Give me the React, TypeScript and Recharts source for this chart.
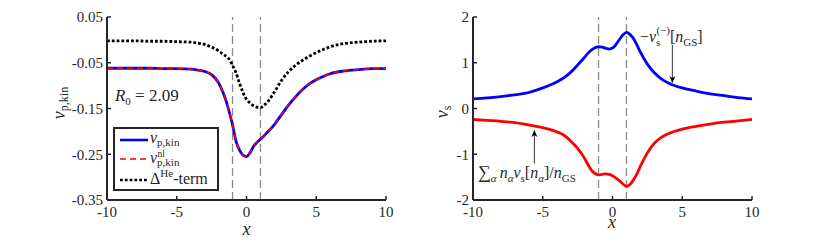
import React from 'react';
import { LineChart, Line, XAxis, YAxis, ReferenceLine, ReferenceDot } from 'recharts';

// left panel: v_p,kin
const xLeft = [-10, -8, -7, -6, -5, -4, -3.5, -3, -2.5, -2, -1.75, -1.5, -1.25, -1, -0.75, -0.5, -0.25, 0, 0.25, 0.5, 0.75, 1, 1.25, 1.5, 2, 2.5, 3, 3.5, 4, 4.5, 5, 5.5, 6, 7, 8, 9, 10];
const vpKin = [-0.062, -0.062, -0.062, -0.063, -0.063, -0.064, -0.066, -0.069, -0.076, -0.094, -0.11, -0.13, -0.156, -0.186, -0.222, -0.241, -0.252, -0.255, -0.247, -0.233, -0.224, -0.217, -0.21, -0.202, -0.185, -0.164, -0.143, -0.125, -0.109, -0.096, -0.087, -0.08, -0.074, -0.068, -0.065, -0.063, -0.063];
const vpKinNl = [-0.062, -0.062, -0.062, -0.063, -0.063, -0.064, -0.066, -0.069, -0.076, -0.094, -0.11, -0.13, -0.156, -0.186, -0.222, -0.241, -0.252, -0.255, -0.247, -0.233, -0.224, -0.217, -0.21, -0.202, -0.185, -0.164, -0.143, -0.125, -0.109, -0.096, -0.087, -0.08, -0.074, -0.068, -0.065, -0.063, -0.063];
const deltaHe = [-0.002, -0.002, -0.003, -0.003, -0.004, -0.005, -0.007, -0.01, -0.016, -0.024, -0.03, -0.035, -0.042, -0.056, -0.072, -0.095, -0.115, -0.13, -0.138, -0.144, -0.147, -0.148, -0.143, -0.136, -0.114, -0.089, -0.07, -0.056, -0.045, -0.036, -0.028, -0.021, -0.015, -0.008, -0.005, -0.003, -0.002];

// right panel: v_s
const xRight = [-10, -9, -8, -7, -6, -5, -4, -3.5, -3, -2.5, -2, -1.75, -1.5, -1.25, -1, -0.75, -0.5, -0.25, 0, 0.25, 0.5, 0.75, 1, 1.25, 1.5, 1.75, 2, 2.5, 3, 3.5, 4, 5, 6, 7, 8, 9, 10];
const vsMinus = [0.21, 0.23, 0.26, 0.3, 0.35, 0.45, 0.58, 0.67, 0.79, 0.95, 1.12, 1.21, 1.28, 1.33, 1.35, 1.34, 1.32, 1.3, 1.32, 1.4, 1.51, 1.61, 1.665, 1.62, 1.53, 1.39, 1.23, 0.97, 0.78, 0.65, 0.56, 0.45, 0.38, 0.32, 0.28, 0.24, 0.21];
const vsSum = [-0.24, -0.26, -0.28, -0.31, -0.36, -0.42, -0.51, -0.58, -0.71, -0.87, -1.09, -1.23, -1.35, -1.42, -1.45, -1.44, -1.43, -1.44, -1.47, -1.52, -1.58, -1.65, -1.7, -1.66, -1.56, -1.43, -1.26, -0.97, -0.76, -0.63, -0.55, -0.45, -0.39, -0.34, -0.3, -0.27, -0.24];

const xTicks = [-10, -5, 0, 5, 10];
const leftYTicks = [-0.35, -0.25, -0.15, -0.05, 0.05];
const rightYTicks = [-2, -1, 0, 1, 2];
const separators = [-1, 1];

const leftData = xLeft.map((x, i) => ({ x, vpKin: vpKin[i], vpKinNl: vpKinNl[i], deltaHe: deltaHe[i] }));
const rightData = xRight.map((x, i) => ({ x, vsMinus: vsMinus[i], vsSum: vsSum[i] }));

const FONT = 'Liberation Serif';
const INK = '#262626';
const tickStyle = { fill: INK, fontSize: 15, fontFamily: FONT };
const txt = { fontFamily: FONT };

// box-on frame with inward ticks, MATLAB style
function frame(yDomain: number[], yTicks: number[], yWidth: number, xLabel: any, yLabel: any) {
  return [
    <XAxis key="xb" dataKey="x" type="number" domain={[-10, 10]} ticks={xTicks} interval={0} height={42}
      axisLine={{ stroke: INK, strokeWidth: 2 }} tickLine={{ stroke: INK, strokeWidth: 1.5 }}
      tickSize={-4} tickMargin={10} tick={tickStyle} label={{ content: xLabel }} />,
    <XAxis key="xt" xAxisId="top" orientation="top" dataKey="x" type="number" domain={[-10, 10]} ticks={xTicks}
      interval={0} height={0} axisLine={{ stroke: INK, strokeWidth: 2 }} tickLine={{ stroke: INK, strokeWidth: 1.5 }}
      tickSize={-4} tick={false} />,
    <YAxis key="yl" type="number" domain={yDomain} ticks={yTicks} interval={0} width={yWidth}
      axisLine={{ stroke: INK, strokeWidth: 2 }} tickLine={{ stroke: INK, strokeWidth: 1.5 }}
      tickSize={-4} tickMargin={8} tick={tickStyle} label={{ content: yLabel }} />,
    <YAxis key="yr" yAxisId="right" orientation="right" type="number" domain={yDomain} ticks={yTicks} interval={0}
      width={0} axisLine={{ stroke: INK, strokeWidth: 2 }} tickLine={{ stroke: INK, strokeWidth: 1.5 }}
      tickSize={-4} tick={false} />,
  ];
}

const arrowDown = (p: any) => (
  <path d={`M${p.cx},${p.cy} L${p.cx - 3},${p.cy - 7} L${p.cx},${p.cy - 5} L${p.cx + 3},${p.cy - 7} Z`} fill="#000" />
);
const arrowUp = (p: any) => (
  <path d={`M${p.cx},${p.cy} L${p.cx - 3},${p.cy + 7} L${p.cx},${p.cy + 5} L${p.cx + 3},${p.cy + 7} Z`} fill="#000" />
);

const r0Text = (p: any) => (
  <text x={p.cx} y={p.cy} style={txt} fontSize={17} fill={INK}>
    <tspan fontStyle="italic">R</tspan>
    <tspan fontSize={11} dy={4}>0</tspan>
    <tspan dy={-4}> = 2.09</tspan>
  </text>
);

const vsMinusText = (p: any) => (
  <text x={p.cx} y={p.cy} style={txt} fontSize={16} fill={INK}>
    <tspan>−</tspan>
    <tspan fontStyle="italic">v</tspan>
    <tspan fontSize={11} dy={4}>s</tspan>
    <tspan fontSize={11} dx={-4} dy={-12}>(−)</tspan>
    <tspan dy={8}>[</tspan>
    <tspan fontStyle="italic">n</tspan>
    <tspan fontSize={11} dy={4}>GS</tspan>
    <tspan dy={-4}>]</tspan>
  </text>
);

const vsSumText = (p: any) => (
  <text x={p.cx} y={p.cy} style={txt} fontSize={16} fill={INK}>
    <tspan fontSize={18}>∑</tspan>
    <tspan fontSize={11} dy={4} fontStyle="italic">α</tspan>
    <tspan dx={3} dy={-4} fontStyle="italic">n</tspan>
    <tspan fontSize={11} dy={4} fontStyle="italic">α</tspan>
    <tspan dy={-4} fontStyle="italic">v</tspan>
    <tspan fontSize={11} dy={4}>s</tspan>
    <tspan dy={-4}>[</tspan>
    <tspan fontStyle="italic">n</tspan>
    <tspan fontSize={11} dy={4} fontStyle="italic">α</tspan>
    <tspan dy={-4}>]/</tspan>
    <tspan fontStyle="italic">n</tspan>
    <tspan fontSize={11} dy={4}>GS</tspan>
  </text>
);

const leftXLabel = () => (
  <text x={246.5} y={235} textAnchor="middle" style={txt} fontSize={18} fontStyle="italic" fill={INK}>x</text>
);
const rightXLabel = () => (
  <text x={202} y={228} textAnchor="middle" style={txt} fontSize={18} fontStyle="italic" fill={INK}>x</text>
);
const leftYLabel = () => (
  <text transform="translate(65,103) rotate(-90)" textAnchor="middle" style={txt} fontSize={18} fill={INK}>
    <tspan fontStyle="italic">v</tspan>
    <tspan fontSize={12} dy={3}>p,kin</tspan>
  </text>
);
const rightYLabel = () => (
  <text transform="translate(38,112) rotate(-90)" textAnchor="middle" style={txt} fontSize={18} fill={INK}>
    <tspan fontStyle="italic">v</tspan>
    <tspan fontSize={12} dy={3}>s</tspan>
  </text>
);

function LegendBox() {
  return (
    <svg width={106} height={64} style={{ position: 'absolute', left: 113, top: 127 }}>
      <rect x={1} y={1} width={104} height={62} fill="#fff" stroke={INK} strokeWidth={2} />
      <line x1={7} x2={35} y1={13} y2={13} stroke="#0000ff" strokeWidth={2.6} />
      <line x1={7} x2={35} y1={32} y2={32} stroke="#ff0000" strokeWidth={1.6} strokeDasharray="6 4" />
      <line x1={7} x2={35} y1={53} y2={53} stroke="#000" strokeWidth={2.6} strokeDasharray="2.8 2" />
      <text x={37} y={15.5} style={txt} fontSize={16} fill={INK}>
        <tspan fontStyle="italic">v</tspan>
        <tspan fontSize={11} dy={3}>p,kin</tspan>
      </text>
      <text x={37} y={36} style={txt} fontSize={16} fill={INK}>
        <tspan fontStyle="italic">v</tspan>
        <tspan fontSize={11} dy={3}>p,kin</tspan>
      </text>
      <text x={44.5} y={29.5} style={txt} fontSize={9.5} fill={INK}>nl</text>
      <text x={37} y={57} style={txt} fontSize={16} fill={INK}>
        <tspan>Δ</tspan>
        <tspan fontSize={11} dy={-7}>He</tspan>
        <tspan dy={7}>-term</tspan>
      </text>
    </svg>
  );
}

export default function App() {
  return (
    <div style={{ position: 'absolute', left: 0, top: 0, width: 830, height: 242, background: '#fff' }}>
      <div style={{ position: 'absolute', left: 0, top: 0 }}>
        <LineChart width={420} height={242} data={leftData} margin={{ top: 17, right: 34, bottom: 0, left: 0 }}>
          {frame([-0.35, 0.05], leftYTicks, 107, leftXLabel, leftYLabel)}
          {separators.map((s) => (
            <ReferenceLine key={s} x={s} stroke="#8c8c8c" strokeWidth={1.3} strokeDasharray="8 4" />
          ))}
          <Line dataKey="deltaHe" type="monotone" stroke="#000" strokeWidth={2.8} strokeDasharray="2.8 2" dot={false} isAnimationActive={false} />
          <Line dataKey="vpKin" type="monotone" stroke="#0000ff" strokeWidth={2.8} dot={false} isAnimationActive={false} />
          <Line dataKey="vpKinNl" type="monotone" stroke="#ff0000" strokeWidth={1.6} strokeDasharray="6 4" dot={false} isAnimationActive={false} />
          <ReferenceDot x={-9.43} y={-0.134} r={0} shape={r0Text} />
        </LineChart>
        <LegendBox />
      </div>
      <div style={{ position: 'absolute', left: 410, top: 0 }}>
        <LineChart width={420} height={242} data={rightData} margin={{ top: 17, right: 78, bottom: 0, left: 0 }}>
          {frame([-2, 2], rightYTicks, 63, rightXLabel, rightYLabel)}
          {separators.map((s) => (
            <ReferenceLine key={s} x={s} stroke="#8c8c8c" strokeWidth={1.3} strokeDasharray="8 4" />
          ))}
          <Line dataKey="vsMinus" type="monotone" stroke="#0000ff" strokeWidth={2.8} dot={false} isAnimationActive={false} />
          <Line dataKey="vsSum" type="monotone" stroke="#ff0000" strokeWidth={2.8} dot={false} isAnimationActive={false} />
          <ReferenceLine segment={[{ x: 4.29, y: 1.39 }, { x: 4.29, y: 0.58 }]} stroke="#000" strokeWidth={0.8} />
          <ReferenceDot x={4.29} y={0.56} r={0} shape={arrowDown} />
          <ReferenceDot x={1.97} y={1.46} r={0} shape={vsMinusText} />
          <ReferenceLine segment={[{ x: -5.6, y: -1.2 }, { x: -5.6, y: -0.49 }]} stroke="#000" strokeWidth={0.8} />
          <ReferenceDot x={-5.6} y={-0.47} r={0} shape={arrowUp} />
          <ReferenceDot x={-9.64} y={-1.52} r={0} shape={vsSumText} />
        </LineChart>
      </div>
    </div>
  );
}
